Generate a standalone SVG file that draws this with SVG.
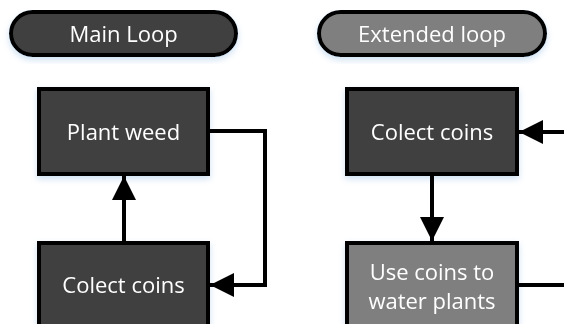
<svg xmlns="http://www.w3.org/2000/svg" width="564" height="324" viewBox="0 0 564 324">
<style>
.box{stroke:#000;stroke-width:4}
.dark{fill:#404040}
.grey{fill:#7f7f7f}
.t{font-family:"Open Sans","Liberation Sans",sans-serif;font-size:22px;fill:#fff;text-anchor:middle}
.c{fill:none;stroke:#000;stroke-width:4}
</style>
<defs>
<filter id="sh" x="-10%" y="-10%" width="120%" height="130%">
<feGaussianBlur in="SourceAlpha" stdDeviation="3"/>
<feOffset dy="3" result="b"/>
<feFlood flood-color="#9dc3e6" flood-opacity="0.5"/>
<feComposite in2="b" operator="in"/>
<feMerge><feMergeNode/><feMergeNode in="SourceGraphic"/></feMerge>
</filter>
<marker id="ah" viewBox="0 0 12 12" refX="12" refY="6" markerWidth="6" markerHeight="6" markerUnits="strokeWidth" orient="auto">
<path d="M0,0 L12,6 L0,12 Z" fill="#000"/>
</marker>
</defs>
<g id="main-loop" filter="url(#sh)">
<rect class="box dark" x="11" y="12" width="225" height="43" rx="21.5"/>
<text class="t" x="123.5" y="41.5">Main Loop</text>
</g>
<g id="extended-loop" filter="url(#sh)">
<rect class="box grey" x="319" y="12" width="226" height="43" rx="21.5"/>
<text class="t" x="432" y="41.5">Extended loop</text>
</g>
<g id="plant-weed" filter="url(#sh)">
<rect class="box dark" x="39" y="89" width="169" height="85"/>
<text class="t" x="123.5" y="140">Plant weed</text>
</g>
<g id="collect-coins-left" filter="url(#sh)">
<rect class="box dark" x="39" y="243" width="169" height="100"/>
<text class="t" x="123.5" y="293">Colect coins</text>
</g>
<g id="collect-coins-right" filter="url(#sh)">
<rect class="box dark" x="347" y="89" width="170" height="85"/>
<text class="t" x="432" y="140">Colect coins</text>
</g>
<g id="use-coins" filter="url(#sh)">
<rect class="box grey" x="347" y="243" width="170" height="100"/>
<text class="t" x="432" y="280">Use coins to</text>
<text class="t" x="432" y="309">water plants</text>
</g>
<g id="connectors">
<path class="c" d="M124,241 L124,176" marker-end="url(#ah)"/>
<path class="c" d="M210,131 L265,131 L265,285 L210,285" marker-end="url(#ah)"/>
<path class="c" d="M566,132 L519,132" marker-end="url(#ah)"/>
<path class="c" d="M432,176 L432,241" marker-end="url(#ah)"/>
<path class="c" d="M519,285 L566,285"/>
</g>
</svg>
